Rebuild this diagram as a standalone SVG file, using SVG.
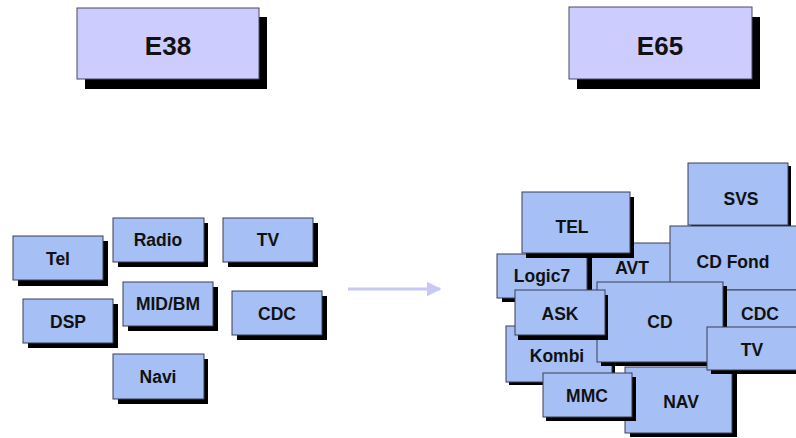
<svg xmlns="http://www.w3.org/2000/svg" width="796" height="438" viewBox="0 0 796 438">
<defs>
<style>
.sh{fill:#000}
.b{fill:#a6bff4;stroke:#3a3f55;stroke-width:1}
.t{fill:#ccccff;stroke:#4a4a60;stroke-width:1}
text{font-family:"Liberation Sans",Arial,sans-serif;font-weight:bold;fill:#111;text-anchor:middle}
.l{font-size:17.5px}
.h{font-size:26px}
</style>
<marker id="ah" viewBox="0 0 10 10" refX="9" refY="5" markerWidth="5" markerHeight="5" orient="auto" markerUnits="strokeWidth">
<path d="M0,0 L10,5 L0,10 Z" fill="#c8c8f8"/>
</marker>
</defs>
<rect width="796" height="438" fill="#fff"/>
<g id="E38"><rect class="sh" x="85" y="17" width="182" height="72"/><rect class="t" x="77" y="8" width="182" height="71"/><text class="h" x="168" y="55">E38</text></g>
<g id="E65"><rect class="sh" x="577" y="17" width="183" height="72"/><rect class="t" x="569" y="7" width="183" height="72"/><text class="h" x="660" y="55">E65</text></g>
<g id="Tel"><rect class="sh" x="18" y="241" width="90" height="45"/><rect class="b" x="13" y="236" width="90" height="44"/><text class="l" x="58" y="265">Tel</text></g>
<g id="Radio"><rect class="sh" x="118" y="223" width="90" height="44"/><rect class="b" x="113" y="218" width="91" height="44"/><text class="l" x="158" y="246">Radio</text></g>
<g id="TV1"><rect class="sh" x="228" y="223" width="90" height="44"/><rect class="b" x="223" y="218" width="90" height="44"/><text class="l" x="268" y="246">TV</text></g>
<g id="MIDBM"><rect class="sh" x="128" y="287" width="90" height="44"/><rect class="b" x="123" y="282" width="90" height="44"/><text class="l" x="168" y="310">MID/BM</text></g>
<g id="DSP"><rect class="sh" x="28" y="304" width="90" height="44"/><rect class="b" x="23" y="299" width="90" height="44"/><text class="l" x="68" y="328">DSP</text></g>
<g id="CDC1"><rect class="sh" x="237" y="296" width="90" height="44"/><rect class="b" x="232" y="291" width="90" height="44"/><text class="l" x="277" y="320">CDC</text></g>
<g id="Navi"><rect class="sh" x="118" y="359" width="90" height="45"/><rect class="b" x="113" y="354" width="91" height="45"/><text class="l" x="158" y="383">Navi</text></g>
<g id="connectors"><line x1="348" y1="289" x2="440" y2="289" stroke="#c8c8f8" stroke-width="3" marker-end="url(#ah)"/></g>
<g id="SVS"><rect class="sh" x="691" y="166" width="100" height="62"/><rect class="b" x="688" y="163" width="100" height="62"/><text class="l" x="741" y="205">SVS</text></g>
<g id="AVT"><rect class="sh" x="594" y="247" width="110" height="48"/><rect class="b" x="590" y="243" width="110" height="48"/><text class="l" x="632" y="274">AVT</text></g>
<g id="CDFond"><rect class="sh" x="674" y="230" width="130" height="64"/><rect class="b" x="670" y="226" width="130" height="64"/><text class="l" x="733" y="268">CD Fond</text></g>
<g id="CDC2"><rect class="sh" x="729" y="294" width="75" height="45"/><rect class="b" x="725" y="290" width="75" height="45"/><text class="l" x="760" y="320">CDC</text></g>
<g id="Kombi"><rect class="sh" x="509" y="329" width="106" height="56"/><rect class="b" x="506" y="326" width="106" height="56"/><text class="l" x="557" y="362">Kombi</text></g>
<g id="NAV"><rect class="sh" x="630" y="371" width="107" height="66"/><rect class="b" x="625" y="367" width="107" height="66"/><text class="l" x="681" y="408">NAV</text></g>
<g id="Logic7"><rect class="sh" x="502" y="258" width="90" height="44"/><rect class="b" x="497" y="254" width="90" height="44"/><text class="l" x="542" y="282">Logic7</text></g>
<g id="TEL"><rect class="sh" x="526" y="197" width="108" height="61"/><rect class="b" x="522" y="192" width="108" height="61"/><text class="l" x="572" y="233">TEL</text></g>
<g id="CD"><rect class="sh" x="601" y="286" width="126" height="80"/><rect class="b" x="597" y="282" width="126" height="80"/><text class="l" x="660" y="328">CD</text></g>
<g id="ASK"><rect class="sh" x="518" y="295" width="90" height="45"/><rect class="b" x="515" y="290" width="90" height="45"/><text class="l" x="560" y="320">ASK</text></g>
<g id="TV2"><rect class="sh" x="711" y="331" width="93" height="43"/><rect class="b" x="707" y="327" width="93" height="43"/><text class="l" x="752" y="356">TV</text></g>
<g id="MMC"><rect class="sh" x="546" y="377" width="90" height="44"/><rect class="b" x="543" y="373" width="89" height="44"/><text class="l" x="587" y="402">MMC</text></g>
</svg>
